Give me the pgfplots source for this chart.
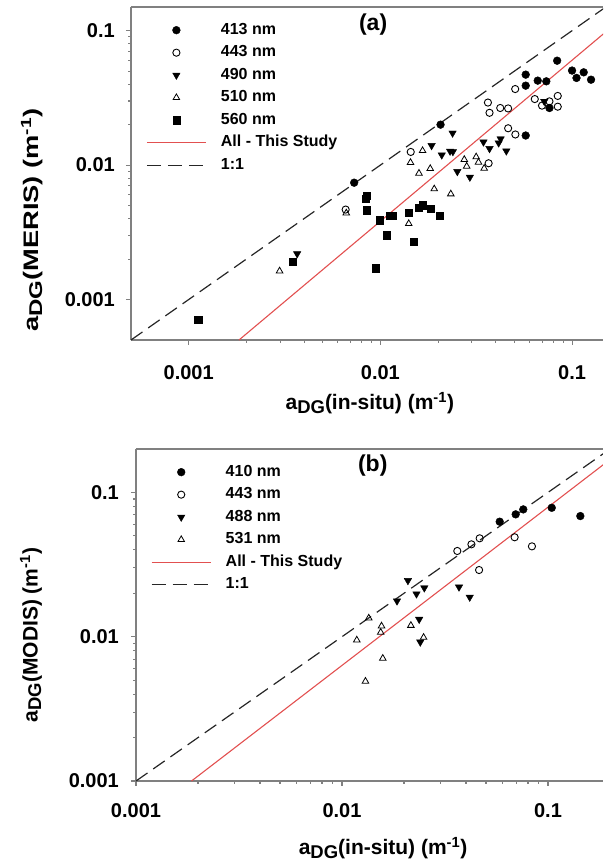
\documentclass[border=0pt]{standalone}
\usepackage{fontspec}
\setmainfont{Liberation Sans}
\usepackage{pgfplots}
\pgfplotsset{compat=1.18}

\definecolor{fitred}{RGB}{226,80,80}
\definecolor{framegray}{RGB}{128,128,128}

\newcommand{\adg}{a\raisebox{-0.32ex}{\scalebox{0.88}{DG}}}

\pgfplotsset{
  legend image code/.code={\draw[mark repeat=2,mark phase=2,#1]
    plot coordinates {(0pt,0pt) (29.5pt,0pt) (59pt,0pt)};
    \path[draw=none,fill=none] (0pt,0pt) -- (74pt,0pt);},
}
\pgfplotsset{
  every axis/.append style={
    xmode=log, ymode=log, scale only axis,
    axis x line*=box, axis y line*=left,
    axis line style={framegray, line width=1.1pt},
    tick style={framegray, line width=1.1pt},
    tick align=outside, major tick length=5pt,
    xtick pos=bottom, ytick pos=left,
    minor tick num=0,
    xtick={0.001,0.01,0.1}, xticklabels={0.001,0.01,0.1},
    ytick={0.001,0.01,0.1}, yticklabels={0.001,0.01,0.1},
    ticklabel style={font=\fontsize{20}{22}\selectfont\bfseries, inner sep=0pt},
    xticklabel style={anchor=north},
    yticklabel style={anchor=east},
    label style={font=\fontsize{21}{24}\selectfont\bfseries},
    legend cell align=left,
    legend style={draw=none, fill=none, inner sep=0pt, row sep=6.5pt,
      font=\fontsize{16}{18}\selectfont\bfseries,
      nodes={inner xsep=0pt, inner ysep=0pt, text height=12pt, text depth=4pt},
      at={(0.032,0.955)}, anchor=north west},
  },
  fullc/.style={only marks, mark=*, mark size=3.9pt, black, mark options={fill=black}},
  openc/.style={only marks, mark=o, mark size=3.6pt, black, mark options={line width=0.9pt, fill=white}},
  downt/.style={only marks, mark=triangle*, mark size=4.3pt, black, mark options={rotate=180, fill=black}},
  opent/.style={only marks, mark=triangle, mark size=3.8pt, black, mark options={line width=0.8pt, fill=white}},
  fulls/.style={only marks, mark=square*, mark size=3.6pt, black, mark options={fill=black}},
  fitline/.style={no marks, fitred, line width=1.1pt},
  oneline/.style={no marks, black!85, line width=1.2pt, dash pattern=on 14pt off 7pt},
}

\begin{document}
\begin{tikzpicture}
\useasboundingbox (0pt,0pt) rectangle (603pt,-861pt);

% ---------- panel (a): MERIS ----------
\begin{axis}[
  at={(131pt,-7pt)}, anchor=north west,
  width=472pt, height=333pt,
  xmin=0.0005, xmax=0.145, ymin=0.0005, ymax=0.15,
  xticklabel style={yshift=-20pt},
  yticklabel style={xshift=-11pt},
  xlabel={\adg(in-situ) (m\textsuperscript{-1})},
  ylabel={\scalebox{1.3}[1]{\adg(MERIS) (m\textsuperscript{-1})}},
  xlabel style={at={(axis description cs:0.506,-0.19)}, anchor=center},
  ylabel style={at={(axis description cs:-0.2097,0.36)}, anchor=center},
]
\addplot[fullc] coordinates {
  (0.0073,0.0074) (0.0206,0.0200) (0.0573,0.0471) (0.0573,0.0390)
  (0.0573,0.0166) (0.0662,0.0425) (0.0734,0.0420) (0.0836,0.0598)
  (0.0762,0.0266) (0.1000,0.0505) (0.1055,0.0445) (0.1150,0.0490)
  (0.1256,0.0432)};
\addlegendentry{413 nm}
\addplot[openc] coordinates {
  (0.00659,0.00467) (0.0144,0.01253) (0.0364,0.0292) (0.0371,0.0245)
  (0.0422,0.0266) (0.0464,0.0264) (0.0505,0.0368) (0.0464,0.0188)
  (0.0506,0.0169) (0.0367,0.01032) (0.0639,0.0310) (0.0697,0.0277)
  (0.0762,0.0298) (0.0842,0.0327) (0.0842,0.0272)};
\addlegendentry{443 nm}
\addplot[downt] coordinates {
  (0.00368,0.00219) (0.0185,0.01397) (0.0209,0.0119) (0.0238,0.0173)
  (0.0231,0.0127) (0.0239,0.0126) (0.0252,0.00895) (0.0293,0.00813)
  (0.0345,0.01486) (0.0371,0.01327) (0.0414,0.01462) (0.0424,0.01567)
  (0.0454,0.01274) (0.0716,0.0298)};
\addlegendentry{490 nm}
\addplot[opent] coordinates {
  (0.00298,0.00163) (0.00664,0.00440) (0.01406,0.00367) (0.01436,0.01045)
  (0.0159,0.00869) (0.0166,0.0128) (0.0182,0.00942) (0.0191,0.00665)
  (0.0233,0.0061) (0.0274,0.0110) (0.0282,0.0098) (0.0316,0.0115)
  (0.0325,0.0105) (0.0348,0.00946)};
\addlegendentry{510 nm}
\addplot[fulls] coordinates {
  (0.00112,0.00071) (0.0035,0.0019) (0.00836,0.00566) (0.0085,0.0059)
  (0.0085,0.00462) (0.00942,0.00171) (0.00993,0.00389) (0.01075,0.00301)
  (0.01124,0.00422) (0.0116,0.00422) (0.01406,0.0044) (0.01486,0.00268)
  (0.0158,0.00483) (0.0167,0.00503) (0.0183,0.00477) (0.0204,0.00419)};
\addlegendentry{560 nm}
\addplot[fitline] coordinates {(0.00183,0.0005) (0.15,0.098)};
\addlegendentry{All - This Study}
\addplot[oneline] coordinates {(0.0005,0.0005) (0.2,0.2)};
\addlegendentry{1:1}
\node[font=\fontsize{23}{25}\selectfont\bfseries] at (rel axis cs:0.513,0.946) {(a)};
\end{axis}

% ---------- panel (b): MODIS ----------
\begin{axis}[
  at={(136pt,-449pt)}, anchor=north west,
  width=467pt, height=332pt,
  xmin=0.001, xmax=0.185, ymin=0.001, ymax=0.2,
  xticklabel style={yshift=-17pt},
  yticklabel style={xshift=-12pt},
  xlabel={\adg(in-situ) (m\textsuperscript{-1})},
  ylabel={\adg(MODIS) (m\textsuperscript{-1})},
  xlabel style={at={(axis description cs:0.529,-0.202)}, anchor=center},
  ylabel style={at={(axis description cs:-0.2248,0.44)}, anchor=center},
]
\addplot[fullc] coordinates {
  (0.0583,0.0627) (0.0697,0.0705) (0.0759,0.0763) (0.1043,0.0783)
  (0.1436,0.0686)};
\addlegendentry{410 nm}
\addplot[openc] coordinates {
  (0.0363,0.0393) (0.0425,0.0437) (0.0466,0.0481) (0.0463,0.0290)
  (0.0689,0.0489) (0.0836,0.0423)};
\addlegendentry{443 nm}
\addplot[downt] coordinates {
  (0.0209,0.0245) (0.0185,0.0177) (0.0230,0.0198) (0.0251,0.0218)
  (0.0237,0.0132) (0.0240,0.00918) (0.0370,0.0221) (0.0417,0.0188)};
\addlegendentry{488 nm}
\addplot[opent] coordinates {
  (0.01349,0.01346) (0.0118,0.00948) (0.01556,0.01186) (0.01542,0.01072)
  (0.01578,0.00708) (0.0130,0.00491) (0.0216,0.01197) (0.0249,0.00989)};
\addlegendentry{531 nm}
\addplot[fitline] coordinates {(0.00186,0.001) (0.2,0.169)};
\addlegendentry{All - This Study}
\addplot[oneline] coordinates {(0.001,0.001) (0.2,0.2)};
\addlegendentry{1:1}
\node[font=\fontsize{23}{25}\selectfont\bfseries] at (rel axis cs:0.507,0.949) {(b)};
\end{axis}
\end{tikzpicture}
\end{document}
